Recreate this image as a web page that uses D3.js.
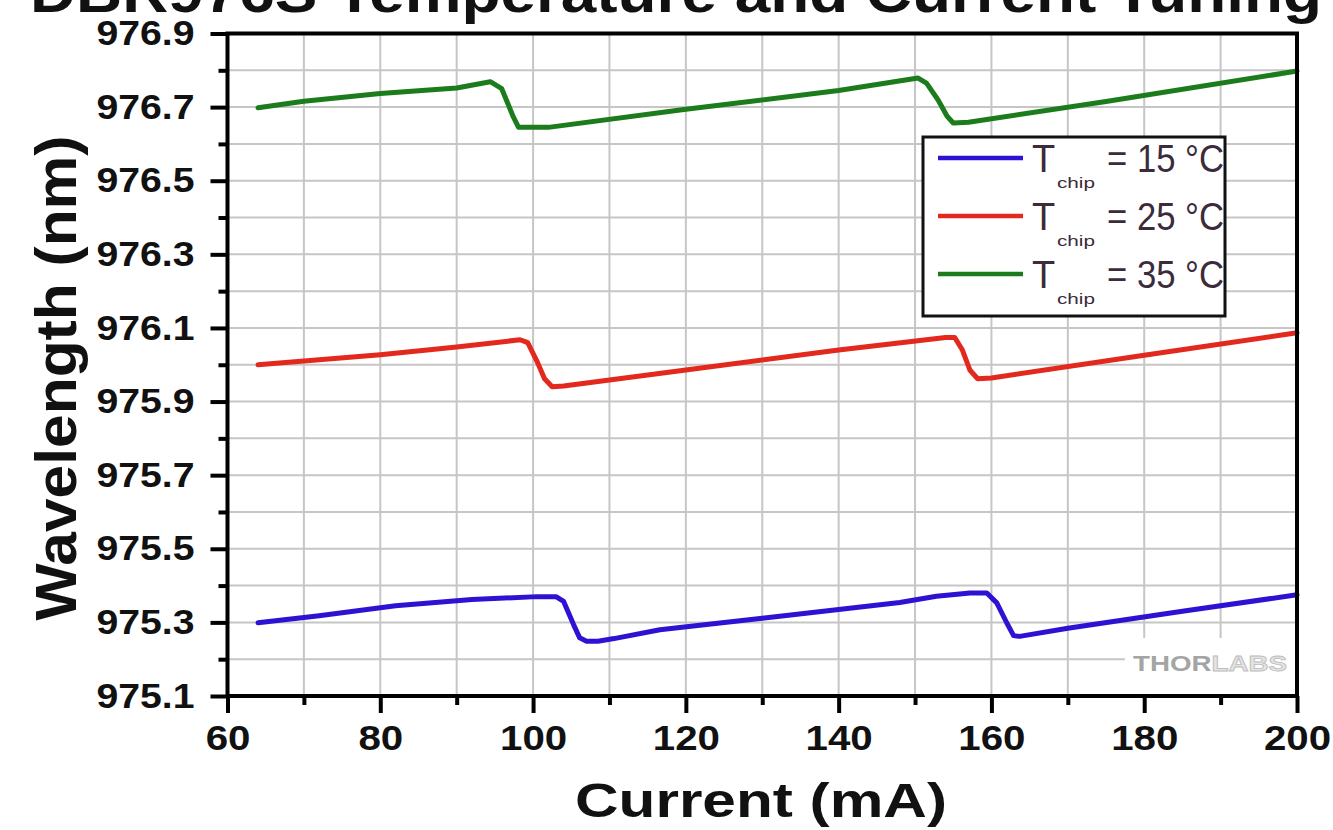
<!DOCTYPE html>
<html><head><meta charset="utf-8">
<script src="https://cdn.jsdelivr.net/npm/d3@7"></script>
<style>
body{margin:0;background:#fff;}
svg text{font-family:Arial,"Liberation Sans",sans-serif;}
</style>
</head><body>
<svg id="c" width="1333" height="830"></svg>
<script>
// ---------- data ----------
const titleText = "DBR976S Temperature and Current Tuning";
const xTitle = "Current (mA)";
const yTitle = "Wavelength (nm)";
const xMajorTicks = [60, 80, 100, 120, 140, 160, 180, 200];
const xMinorTicks = [70, 90, 110, 130, 150, 170, 190];
const yMajorTicks = [975.1, 975.3, 975.5, 975.7, 975.9, 976.1, 976.3, 976.5, 976.7, 976.9];
const yMinorTicks = [975.2, 975.4, 975.6, 975.8, 976.0, 976.2, 976.4, 976.6, 976.8];
const xGridValues = [70, 80, 90, 100, 110, 120, 130, 140, 150, 160, 170, 180, 190];
const yGridValues = [975.2, 975.3, 975.4, 975.5, 975.6, 975.7, 975.8, 975.9, 976.0, 976.1, 976.2, 976.3, 976.4, 976.5, 976.6, 976.7, 976.8];
const seriesLabels = ["= 15 °C", "= 25 °C", "= 35 °C"];
const seriesColors = ["#2e12d4", "#e3291d", "#1c7c1c"];

const chip15 = [[64,975.299],[72,975.318],[82,975.345],[92,975.362],[100.5,975.370],[103,975.370],[104,975.357],[105.3,975.294],[106.1,975.258],[107,975.249],[108.5,975.249],[110.6,975.256],[116.6,975.280],[130,975.311],[148,975.354],[152.8,975.371],[157.2,975.380],[159.4,975.380],[160.7,975.353],[162,975.299],[162.9,975.264],[163.7,975.262],[170,975.284],[185,975.330],[200,975.375]];
const chip25 = [[64,976.000],[80,976.027],[90,976.048],[98.3,976.068],[99.3,976.060],[100.5,976.010],[101.5,975.962],[102.5,975.940],[104,975.942],[120,975.986],[140,976.040],[154,976.074],[155.2,976.074],[156.2,976.040],[157.2,975.985],[158.2,975.962],[160,975.964],[180,976.026],[200,976.087]];
const chip35 = [[64,976.698],[70,976.716],[80,976.737],[90,976.752],[94.4,976.769],[95.9,976.750],[97.4,976.674],[98.1,976.645],[102,976.645],[120,976.694],[140,976.745],[150.4,976.779],[151.5,976.765],[153,976.720],[154.2,976.675],[155,976.657],[157,976.659],[175,976.715],[200,976.798]];
const seriesData = [chip15, chip25, chip35];

// ---------- layout ----------
const svg = d3.select("#c");
const x = d3.scaleLinear().domain([60, 200]).range([227.5, 1297]);
const y = d3.scaleLinear().domain([975.1, 976.9]).range([696, 33.5]);

function stretch(sel, k) {
  sel.each(function () {
    const w = this.getComputedTextLength();
    d3.select(this).attr("textLength", w * k).attr("lengthAdjust", "spacingAndGlyphs");
  });
}

// grid
const grid = svg.append("g").attr("stroke", "#c6c6c6").attr("stroke-width", 2);
grid.selectAll("line.vx").data(xGridValues).join("line").attr("class","vx")
  .attr("x1", d => x(d)).attr("x2", d => x(d)).attr("y1", y.range()[0]).attr("y2", y.range()[1]);
grid.selectAll("line.hy").data(yGridValues).join("line").attr("class","hy")
  .attr("y1", d => y(d)).attr("y2", d => y(d)).attr("x1", x.range()[0]).attr("x2", x.range()[1]);

// series
const line = d3.line().x(d => x(d[0])).y(d => y(d[1]));
svg.append("g").selectAll("path").data(seriesData).join("path")
  .attr("d", line).attr("fill", "none")
  .attr("stroke", (d, i) => seriesColors[i]).attr("stroke-width", 5)
  .attr("stroke-linejoin", "round").attr("stroke-linecap", "round");

// watermark
const wm = svg.append("g");
wm.append("rect").attr("x", 1125).attr("y", 638).attr("width", 170).attr("height", 56).attr("fill", "#fff");
const wmText = wm.append("text").attr("x", 1133).attr("y", 671).attr("font-size", 22).attr("font-weight", "bold")
  .attr("textLength", 154).attr("lengthAdjust", "spacingAndGlyphs");
wmText.append("tspan").attr("fill", "#a4a4a4").text("THOR");
wmText.append("tspan").attr("fill", "#e4e4e4").attr("stroke", "#bdbdbd").attr("stroke-width", 0.8).text("LABS");

// frame
svg.append("rect").attr("x", x.range()[0]).attr("y", y.range()[1])
  .attr("width", x.range()[1] - x.range()[0]).attr("height", y.range()[0] - y.range()[1])
  .attr("fill", "none").attr("stroke", "#000").attr("stroke-width", 4);

// axes
function styleAxis(g) {
  g.select(".domain").remove();
  g.selectAll(".tick line").attr("stroke", "#000").attr("stroke-width", 4);
  g.selectAll(".tick text").attr("fill", "#111").attr("font-size", 35).attr("font-weight", "bold")
    .attr("font-family", "Arial, 'Liberation Sans', sans-serif");
}
const gx = svg.append("g").attr("transform", `translate(0,${y.range()[0]})`)
  .call(d3.axisBottom(x).tickValues(xMajorTicks).tickSize(17).tickPadding(12).tickSizeOuter(0));
styleAxis(gx);
const gxm = svg.append("g").attr("transform", `translate(0,${y.range()[0]})`)
  .call(d3.axisBottom(x).tickValues(xMinorTicks).tickSize(9).tickFormat("").tickSizeOuter(0));
styleAxis(gxm);
const gy = svg.append("g").attr("transform", `translate(${x.range()[0]},0)`)
  .call(d3.axisLeft(y).tickValues(yMajorTicks).tickSize(17).tickPadding(16).tickFormat(d3.format(".1f")).tickSizeOuter(0));
styleAxis(gy);
const gym = svg.append("g").attr("transform", `translate(${x.range()[0]},0)`)
  .call(d3.axisLeft(y).tickValues(yMinorTicks).tickSize(9).tickFormat("").tickSizeOuter(0));
styleAxis(gym);
stretch(gx.selectAll(".tick text"), 1.15);
stretch(gy.selectAll(".tick text"), 1.12);

// titles
svg.append("text").attr("x", 676).attr("y", 12).attr("text-anchor", "middle")
  .attr("font-size", 56).attr("font-weight", "bold").attr("fill", "#111")
  .attr("textLength", 1292).attr("lengthAdjust", "spacingAndGlyphs").text(titleText);
svg.append("text").attr("x", 761).attr("y", 817).attr("text-anchor", "middle")
  .attr("font-size", 49).attr("font-weight", "bold").attr("fill", "#111")
  .attr("textLength", 372).attr("lengthAdjust", "spacingAndGlyphs").text(xTitle);
svg.append("text").attr("transform", "translate(76,378) rotate(-90)").attr("text-anchor", "middle")
  .attr("font-size", 58).attr("font-weight", "bold").attr("fill", "#111")
  .attr("textLength", 485).attr("lengthAdjust", "spacingAndGlyphs").text(yTitle);

// legend
const lg = svg.append("g").attr("transform", "translate(923,137)");
lg.append("rect").attr("width", 302).attr("height", 179).attr("fill", "#fff").attr("stroke", "#111").attr("stroke-width", 3);
const items = lg.selectAll("g.item").data(seriesLabels).join("g").attr("class", "item")
  .attr("transform", (d, i) => `translate(0,${21 + i * 58})`);
items.append("line").attr("x1", 15).attr("x2", 100).attr("stroke", (d, i) => seriesColors[i]).attr("stroke-width", 4.5);
items.append("text").attr("x", 109).attr("y", 14).attr("font-size", 38).attr("fill", "#3b2b3b").text("T");
items.append("text").attr("x", 134).attr("y", 30).attr("font-size", 14).attr("fill", "#3b2b3b")
  .attr("textLength", 38).attr("lengthAdjust", "spacingAndGlyphs").text("chip");
items.append("text").attr("x", 184).attr("y", 14).attr("font-size", 38).attr("fill", "#3b2b3b")
  .attr("textLength", 117).attr("lengthAdjust", "spacingAndGlyphs").text(d => d);
</script>
</body></html>
